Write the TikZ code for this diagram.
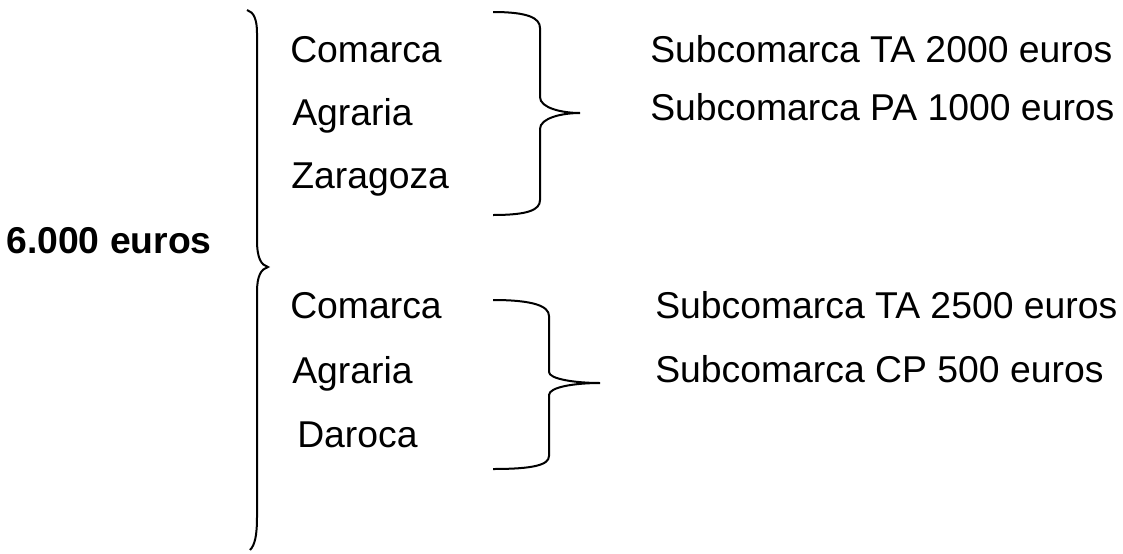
\documentclass[tikz,border=0pt]{standalone}
\usepackage{fontspec}
\setmainfont{Liberation Sans}
\tikzset{
  label/.style={anchor=base west, inner sep=0pt, font=\fontsize{28pt}{33pt}\selectfont},
  bracket/.style={line width=1.5pt}
}
\begin{document}
\begin{tikzpicture}[x=0.75pt,y=-0.75pt]
    \useasboundingbox (0,0) rectangle (1123,553);

    % Total
    \node (total) at (6,253) [label] {\bfseries 6.000 euros};

    % Big bracket
    \draw [bracket] (247,10) .. controls (254,12) and (257,20) .. (257,33)
        -- (257,240) .. controls (257,258) and (261,265) .. (268,267)
        .. controls (261,269) and (257,276) .. (257,292)
        -- (257,517) .. controls (257,535) and (255,545) .. (250,550);

    % Comarca Agraria Zaragoza
    \node (com1) at (290,62) [label] {Comarca};
    \node (agr1) at (292,125) [label] {Agraria};
    \node (zar)  at (291,188) [label] {Zaragoza};

    % Bracket Zaragoza
    \draw [bracket] (493,12) .. controls (528,12) and (540,18) .. (540,28)
        -- (540,97) .. controls (540,108) and (562,113) .. (580,113)
        .. controls (562,113) and (540,118) .. (540,129)
        -- (540,200) .. controls (540,210) and (528,215) .. (493,215);

    % Subcomarcas Zaragoza
    \node (ta1) at (650,62) [label] {Subcomarca TA 2000 euros};
    \node (pa1) at (650,120) [label] {Subcomarca PA 1000 euros};

    % Comarca Agraria Daroca
    \node (com2) at (290,318) [label] {Comarca};
    \node (agr2) at (292,383) [label] {Agraria};
    \node (dar)  at (297,447) [label] {Daroca};

    % Bracket Daroca
    \draw [bracket] (493,300) .. controls (533,300) and (549,306) .. (549,316)
        -- (549,372) .. controls (549,379) and (575,383) .. (600,383)
        .. controls (575,383) and (549,387) .. (549,395)
        -- (549,456) .. controls (549,465) and (533,469) .. (493,469);

    % Subcomarcas Daroca
    \node (ta2) at (655,318) [label] {Subcomarca TA 2500 euros};
    \node (cp2) at (655,382) [label] {Subcomarca CP 500 euros};
\end{tikzpicture}
\end{document}
